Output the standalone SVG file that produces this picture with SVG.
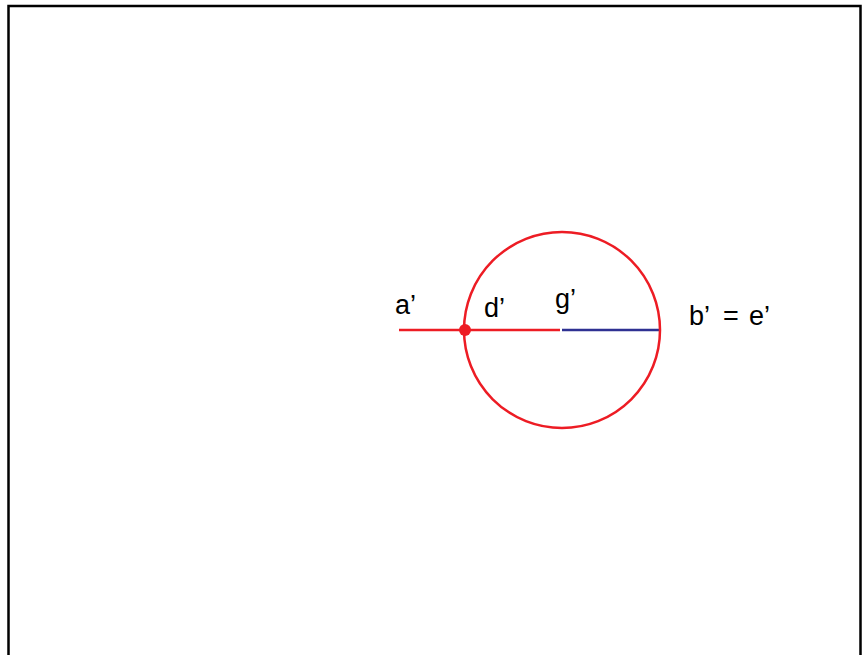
<svg xmlns="http://www.w3.org/2000/svg" width="862" height="655" viewBox="0 0 862 655">
<style>
.t{font-family:"Liberation Sans",Arial,sans-serif;font-size:27px;fill:#000}
.r{stroke:#ED1C24;stroke-width:2.5;fill:none}
.b{stroke:#2E3192;stroke-width:2.5;fill:none}
</style>
<rect x="0" y="0" width="862" height="655" fill="#fff"/>
<path d="M8.5,660 V6 H860.5 V660" fill="none" stroke="#000" stroke-width="2.5"/>
<g id="connectors">
<line class="r" x1="399" y1="330" x2="560" y2="330"/>
<line class="b" x1="562" y1="330" x2="659" y2="330"/>
</g>
<g id="circle"><circle class="r" cx="562" cy="330" r="98"/></g>
<g id="d-point"><circle cx="465" cy="330" r="6" fill="#ED1C24"/></g>
<g id="labels">
<text class="t" x="395" y="314">a’</text>
<text class="t" x="484" y="317">d’</text>
<text class="t" x="555" y="308">g’</text>
<text class="t" y="325"><tspan x="689">b’</tspan><tspan x="723">=</tspan><tspan x="749">e’</tspan></text>
</g>
</svg>
